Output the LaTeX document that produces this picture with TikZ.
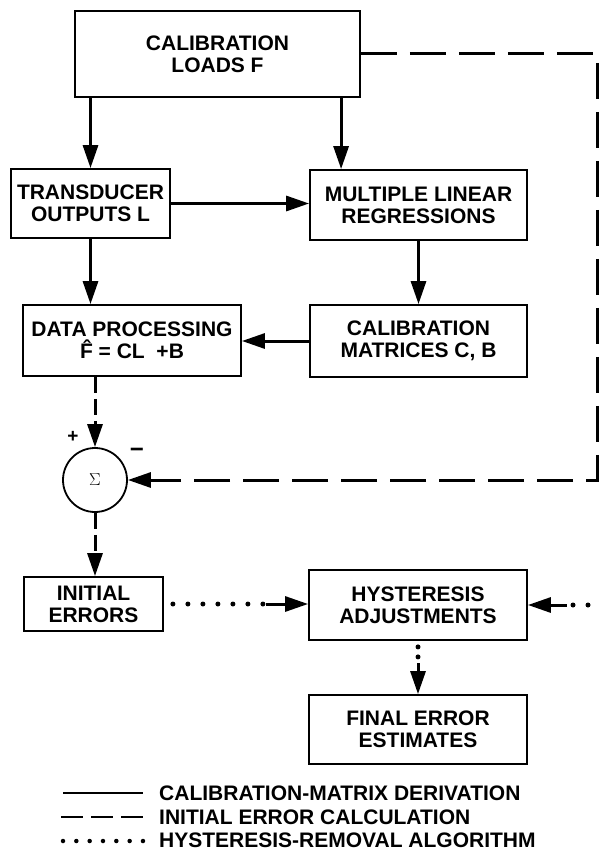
\documentclass[tikz,border=0pt]{standalone}
\usepackage{fontspec}
\setmainfont{Liberation Sans}
\usetikzlibrary{arrows.meta,calc}
\begin{document}
\begin{tikzpicture}[x=1pt,y=-1pt,
  txt/.style={font=\fontsize{21}{22}\selectfont\bfseries},
  box/.style={draw,line width=1.8pt,inner sep=0pt,align=center,txt},
  tip/.style={-{Triangle[length=23pt,width=15pt]}},
  arr/.style={line width=3pt,tip},
  dashlong/.style={line width=3pt,dash pattern=on 36pt off 13pt},
  dashshort/.style={line width=3pt,dash pattern=on 16pt off 6pt},
  dotline/.style={line width=5pt,line cap=round,dash pattern=on 0pt off 15pt},
]
\useasboundingbox (0,0) rectangle (599,850);

% boxes
\node[box,minimum width=285pt,minimum height=86pt] (cal) at (217.5,54) {CALIBRATION\\LOADS F};
\node[box,minimum width=159pt,minimum height=69pt] (td) at (90.5,203.5) {TRANSDUCER\\OUTPUTS L};
\node[box,minimum width=217pt,minimum height=70pt] (mlr) at (418.5,205) {MULTIPLE LINEAR\\REGRESSIONS};
\node[box,minimum width=218pt,minimum height=71pt] (dp) at (132,340.5) {DATA PROCESSING\\\^F = CL \ +B};
\node[box,minimum width=217pt,minimum height=72pt] (cm) at (418.5,341) {CALIBRATION\\MATRICES C, B};
\node[draw,circle,line width=1.8pt,minimum size=64pt,inner sep=0pt] (sum) at (95,480) {\fontsize{19}{19}\selectfont$\Sigma$};
\node[font=\fontsize{19}{19}\selectfont\bfseries] (plus) at (73,437) {+};
\node[font=\fontsize{24}{24}\selectfont\bfseries] (minus) at (137,453) {−};
\node[box,minimum width=139pt,minimum height=54pt] (ie) at (93.5,604) {INITIAL\\ERRORS};
\node[box,minimum width=218pt,minimum height=70pt] (ha) at (418,605) {HYSTERESIS\\ADJUSTMENTS};
\node[box,minimum width=218pt,minimum height=69pt] (fe) at (418,729.5) {FINAL ERROR\\ESTIMATES};

% coordinates
\coordinate (a2) at ([xshift=32pt]mlr.north west);
\coordinate (r1) at (597,54);
\coordinate (r2) at (597,480);
\coordinate (r3) at (588,605);

% solid connectors
\draw[arr] (cal.south -| td.north) -- (td.north);
\draw[arr] (cal.south -| a2) -- (a2);
\draw[arr] (td.east) -- (td.east -| mlr.west);
\draw[arr] (td.south) -- (td.south |- dp.north);
\draw[arr] (mlr.south) -- (cm.north);
\draw[arr] (cm.west) -- (cm.west -| dp.east);

% dashed connectors
\draw[dashshort,tip] (dp.south -| sum.north) -- (sum.north);
\draw[dashshort,tip] (sum.south) -- (sum.south |- ie.north);
\draw[dashlong,tip] (cal.east |- r1) -- (r1) -- (r2) -- (sum.east);

% dotted connectors
\draw[dotline,shorten <=9pt,shorten >=45pt] (ie.east) -- (ie.east -| ha.west);
\draw[arr] ([xshift=-42pt]ie.east -| ha.west) -- (ie.east -| ha.west);
\draw[dotline,shorten >=44pt] (r3) -- (ha.east);
\draw[arr] ([xshift=39pt]ha.east) -- (ha.east);
\draw[dotline,dash pattern=on 0pt off 10pt,shorten <=6pt,shorten >=36pt] (ha.south) -- (fe.north);
\draw[arr] ([yshift=31pt]fe.north) -- (fe.north);

% legend
\draw[line width=2.5pt] (63,793) -- (143,793);
\draw[line width=2.5pt,dash pattern=on 22pt off 8pt] (61,817) -- (143,817);
\draw[line width=4.5pt,line cap=round,dash pattern=on 0pt off 13.33pt] (63,841) -- (143.5,841);
\node[txt,anchor=west,inner sep=0pt] (l1) at (159,793) {CALIBRATION-MATRIX DERIVATION};
\node[txt,anchor=west,inner sep=0pt] (l2) at (159,817) {INITIAL ERROR CALCULATION};
\node[txt,anchor=west,inner sep=0pt] (l3) at (159,840) {HYSTERESIS-REMOVAL ALGORITHM};
\end{tikzpicture}
\end{document}
